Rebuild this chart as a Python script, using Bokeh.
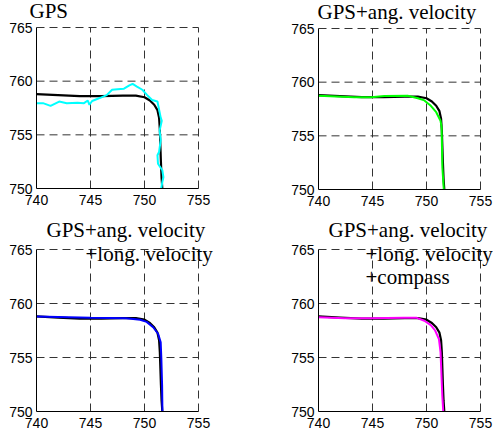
from bokeh.plotting import figure
from bokeh.layouts import column, row
from bokeh.models import Range1d, FixedTicker, Label
from bokeh.embed import file_html
from bokeh.resources import INLINE

# ---- data -------------------------------------------------------------
x_ticks = [740, 745, 750, 755]
y_ticks = [750, 755, 760, 765]

# reference trajectory (black)
ref_x = [740.0, 742.0, 744.0, 746.0, 748.0, 749.2, 750.0, 750.5, 750.9,
         751.2, 751.35, 751.42, 751.47, 751.52, 751.58, 751.65]
ref_y = [758.8, 758.7, 758.6, 758.6, 758.65, 758.65, 758.5, 758.2, 757.8,
         757.3, 756.6, 755.5, 754.0, 752.5, 751.0, 750.0]

# GPS only (cyan)
gps_x = [740.0, 740.6, 741.3, 742.1, 742.8, 743.8, 744.4, 744.75, 744.9,
         745.15, 745.9, 746.5, 747.0, 747.5, 748.1, 748.6, 748.9, 749.3,
         749.8, 750.25, 750.7, 751.2, 751.3, 751.5, 751.6, 751.4, 751.5,
         751.35, 751.2, 751.25, 751.65, 751.75, 751.65, 751.55]
gps_y = [757.95, 757.95, 757.7, 758.1, 757.95, 758.0, 757.95, 758.2, 757.8,
         758.15, 758.45, 758.7, 759.2, 759.25, 759.3, 759.6, 759.75, 759.5,
         759.2, 758.7, 758.25, 758.1, 757.6, 756.6, 756.3, 755.4, 754.5,
         753.4, 753.1, 752.3, 751.7, 751.05, 750.6, 750.0]

# GPS + angular velocity (green)
ang_x = [740.0, 743.3, 744.86, 746.1, 748.26, 749.2, 749.8, 750.4, 750.9,
         751.3, 751.4, 751.44, 751.47, 751.6]
ang_y = [758.74, 758.6, 758.6, 758.7, 758.74, 758.5, 758.3, 757.8, 757.2,
         756.4, 755.8, 753.6, 752.05, 750.0]

# GPS + angular velocity + longitudinal velocity (blue)
lon_x = [740.0, 745.0, 748.3, 749.6, 750.2, 750.8, 751.26, 751.5, 751.56,
         751.63, 751.66]
lon_y = [758.8, 758.67, 758.64, 758.5, 758.3, 757.8, 757.2, 756.4, 754.9,
         752.4, 750.0]

# GPS + angular velocity + longitudinal velocity + compass (magenta)
cmp_x = [740.0, 742.4, 744.8, 747.9, 749.1, 749.8, 750.4, 750.8, 751.15,
         751.3, 751.36, 751.46, 751.55]
cmp_y = [758.73, 758.64, 758.64, 758.67, 758.67, 758.4, 758.0, 757.5, 756.7,
         755.5, 754.0, 751.5, 750.0]

panels = [
    (["GPS"], gps_x, gps_y, "#00FFFF"),
    (["GPS+ang. velocity"], ang_x, ang_y, "#00FF00"),
    (["GPS+ang. velocity", "+long. velocity"], lon_x, lon_y, "#0000FF"),
    (["GPS+ang. velocity", "+long. velocity", "+compass"], cmp_x, cmp_y, "#FF00FF"),
]

# ---- layout -----------------------------------------------------------
FIG_H = 219
DATA_W = 162
# (fig width, px of x=740 from left, px of y=765 from top, data height px)
geom = [
    (246, 36, 27, 161),
    (247, 72, 28, 161),
    (246, 36, 30, 162),
    (247, 72, 30, 162),
]
# title lines: (left px, baseline px from the top of each figure)
title_pos = [
    [(29, 17.3)],
    [(71, 18.3)],
    [(46, 17.3), (85, 40.7)],
    [(82, 17.3), (119, 40.7), (119, 64)],
]
BASE_SHIFT = 6.5

x_lo, x_hi = x_ticks[0], x_ticks[-1]
y_lo, y_hi = y_ticks[0], y_ticks[-1]
sx = (x_hi - x_lo) / DATA_W

figs = []
for i, (titles, xs, ys, col) in enumerate(panels):
    w, l, t, dh = geom[i]
    sy = (y_hi - y_lo) / dh
    xr = Range1d(x_lo - l * sx, x_lo + (w - l) * sx)
    yr = Range1d(y_lo - (FIG_H - t - dh) * sy, y_hi + t * sy)
    p = figure(width=w, height=FIG_H, output_backend="svg", toolbar_location=None,
               x_range=xr, y_range=yr, min_border=0,
               min_border_left=0, min_border_right=0,
               min_border_top=0, min_border_bottom=0)
    p.outline_line_color = None
    p.background_fill_color = "white"
    p.border_fill_color = "white"
    p.xgrid.visible = False
    p.ygrid.visible = False
    p.xaxis.ticker = FixedTicker(ticks=x_ticks)
    p.yaxis.ticker = FixedTicker(ticks=y_ticks)
    p.xaxis.bounds = (x_lo, x_hi)
    p.yaxis.bounds = (y_lo, y_hi)
    p.xaxis.fixed_location = y_lo
    p.yaxis.fixed_location = x_lo
    for ax in (p.xaxis[0], p.yaxis[0]):
        ax.major_tick_in = 0
        ax.major_tick_out = 0
        ax.minor_tick_in = 0
        ax.minor_tick_out = 0
        ax.axis_line_color = "black"
        ax.axis_line_width = 1
        ax.major_label_text_font = "Liberation Sans"
        ax.major_label_text_font_size = "14px"
        ax.major_label_text_color = "black"
    p.xaxis.major_label_standoff = 6
    p.yaxis.major_label_standoff = 4

    # dashed grid (drawn from the tick arrays, limited to the data box)
    gx = x_ticks[1:]
    gy = y_ticks[1:]
    p.segment(x0=gx, y0=[y_lo] * len(gx), x1=gx, y1=[y_hi] * len(gx),
              line_color="#333333", line_width=1, line_dash="8 5")
    p.segment(x0=[x_lo] * len(gy), y0=gy, x1=[x_hi] * len(gy), y1=gy,
              line_color="#333333", line_width=1, line_dash="8 5")

    p.line(ref_x, ref_y, line_color="black", line_width=2.2)
    p.line(xs, ys, line_color=col, line_width=2)

    for txt, (tx, ty) in zip(titles, title_pos[i]):
        p.add_layout(Label(x=tx, y=FIG_H - ty + BASE_SHIFT,
                           x_units="screen", y_units="screen",
                           text=txt, text_font="Liberation Serif",
                           text_font_size="21px", text_color="black",
                           text_baseline="alphabetic"))
    figs.append(p)

layout = column(row(figs[0], figs[1]), row(figs[2], figs[3]))

open("out.html", "w").write(file_html(layout, INLINE))
